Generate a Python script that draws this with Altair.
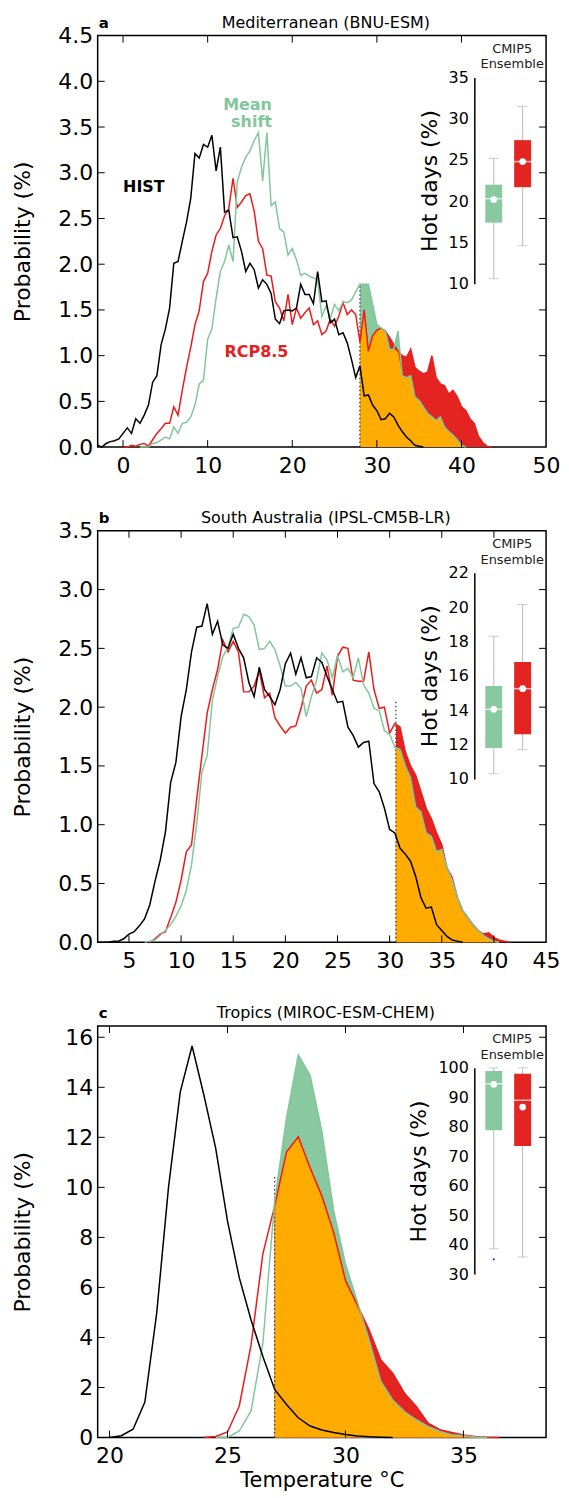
import altair as alt
import pandas as pd

FONT = "DejaVu Sans"
W, H = 450, 413

# ---------------- data: probability (%) per 0.5 degC bin ----------------
# (a) Mediterranean (BNU-ESM)
A_HIST_START = -3.0
A_HIST = [0.02, 0.0, 0.04, 0.06, 0.07, 0.09, 0.15, 0.21, 0.15, 0.31, 0.26, 0.35, 0.46, 0.71,
          0.78, 1.12, 1.29, 1.52, 2.01, 2.03, 2.25, 2.46, 2.72, 3.21, 3.16, 3.31, 3.28, 3.41,
          3.02, 3.28, 2.57, 2.59, 2.29, 2.30, 2.14, 1.92, 2.01, 1.94, 1.74, 1.83, 1.78, 1.68,
          1.40, 1.35, 1.49, 1.50, 1.49, 1.52, 1.78, 1.67, 1.67, 1.57, 1.92, 1.59, 1.60, 1.36,
          1.40, 1.23, 1.25, 1.14, 0.96, 0.76, 0.89, 0.56, 0.57, 0.46, 0.40, 0.30, 0.31, 0.37,
          0.33, 0.24, 0.17, 0.11, 0.07, 0.02, 0.01, 0.0]
A_RCP_START = 0.0
A_RCP = [0.0, 0.0, 0.02, 0.01, 0.03, 0.04, 0.01, 0.08, 0.15, 0.20, 0.26, 0.26, 0.44, 0.35,
         0.62, 0.87, 1.09, 1.34, 1.49, 1.81, 1.90, 2.14, 2.32, 2.39, 2.53, 2.61, 2.94, 2.62,
         2.68, 2.75, 2.77, 2.58, 2.25, 2.17, 1.88, 1.87, 1.59, 1.52, 1.38, 1.67, 1.34, 1.52,
         1.41, 1.47, 1.52, 1.34, 1.38, 1.23, 1.27, 1.40, 1.32, 1.43, 1.58, 1.45, 1.50, 1.45,
         1.15, 1.50, 1.05, 1.22, 1.28, 1.30, 1.27, 1.20, 1.12, 1.05, 1.00, 0.98, 1.07, 0.87,
         0.83, 0.80, 0.82, 1.00, 0.76, 0.69, 0.67, 0.58, 0.62, 0.55, 0.44, 0.40, 0.31, 0.26,
         0.12, 0.05, 0.01, 0.0]
A_SHIFT_START = 2.0
A_SHIFT = [0.0, 0.0, 0.0, 0.04, 0.05, 0.08, 0.11, 0.09, 0.22, 0.15, 0.26, 0.27, 0.33, 0.46,
           0.69, 0.73, 1.18, 1.29, 1.63, 1.92, 2.03, 2.21, 2.03, 2.90, 3.06, 3.17, 3.24, 3.35,
           3.44, 2.91, 3.44, 2.64, 2.68, 2.39, 2.35, 2.10, 2.17, 2.05, 1.88, 1.90, 1.87, 1.85,
           1.83, 1.43, 1.54, 1.41, 1.56, 1.49, 1.59, 1.58, 1.61, 1.70, 1.78, 1.78, 1.78, 1.56,
           1.34, 1.30, 1.27, 1.07, 1.07, 1.27, 0.78, 0.76, 0.78, 0.55, 0.51, 0.44, 0.37, 0.33,
           0.29, 0.33, 0.22, 0.17, 0.13, 0.08, 0.02, 0.0]

# (b) South Australia (IPSL-CM5B-LR)
B_HIST_START = 2.0
B_HIST = [0.0, 0.0, 0.0, 0.01, 0.01, 0.03, 0.07, 0.09, 0.14, 0.20, 0.32, 0.52, 0.70, 0.94,
          1.36, 1.53, 1.92, 2.15, 2.47, 2.68, 2.69, 2.88, 2.62, 2.73, 2.53, 2.50, 2.62, 2.50,
          2.42, 2.21, 2.09, 2.34, 2.15, 2.09, 2.02, 2.15, 2.37, 2.46, 2.28, 2.42, 2.25, 2.26,
          2.42, 2.38, 2.26, 2.15, 2.04, 2.05, 1.83, 1.76, 1.66, 1.70, 1.71, 1.35, 1.28, 1.14,
          0.96, 0.93, 0.80, 0.75, 0.69, 0.56, 0.38, 0.29, 0.30, 0.15, 0.10, 0.05, 0.02, 0.01, 0.0]
B_RCP_START = 7.0
B_RCP = [0.0, 0.03, 0.07, 0.09, 0.21, 0.34, 0.53, 0.77, 0.83, 1.22, 1.59, 1.95, 2.15, 2.32,
         2.57, 2.47, 2.56, 2.47, 2.13, 2.13, 2.18, 2.31, 2.08, 2.12, 1.91, 1.84, 1.78, 1.83,
         1.84, 1.99, 2.18, 2.23, 2.12, 2.15, 2.35, 2.10, 2.43, 2.51, 2.50, 2.23, 2.22, 2.22,
         2.47, 2.15, 1.99, 2.00, 1.78, 1.86, 1.83, 1.62, 1.50, 1.42, 1.28, 1.14, 1.05, 0.93,
         0.83, 0.63, 0.55, 0.38, 0.27, 0.21, 0.15, 0.10, 0.07, 0.08, 0.04, 0.02, 0.01, 0.0]
B_SHIFT_START = 6.5
B_SHIFT = [0.0, 0.01, 0.02, 0.06, 0.10, 0.15, 0.22, 0.31, 0.44, 0.66, 1.01, 1.45, 1.59, 2.06,
           2.26, 2.43, 2.51, 2.67, 2.68, 2.79, 2.77, 2.70, 2.49, 2.50, 2.56, 2.49, 2.35, 2.18,
           2.18, 2.21, 2.16, 1.92, 2.09, 2.23, 2.46, 2.40, 2.25, 2.44, 2.30, 2.33, 2.25, 2.42,
           2.19, 2.12, 1.99, 1.97, 1.80, 1.77, 1.66, 1.64, 1.50, 1.40, 1.15, 1.11, 0.93, 0.90,
           0.77, 0.79, 0.63, 0.53, 0.38, 0.27, 0.21, 0.15, 0.10, 0.06, 0.03, 0.01, 0.0]

# (c) Tropics (MIROC-ESM-CHEM)
C_HIST_START = 20.0
C_HIST = [0.0, 0.07, 0.33, 1.42, 4.96, 9.99, 13.82, 15.65, 13.69, 11.57, 8.66, 6.39, 4.70,
          3.24, 1.92, 1.32, 0.79, 0.46, 0.30, 0.20, 0.12, 0.06, 0.03, 0.01, 0.0]
C_RCP_START = 24.0
C_RCP = [0.0, 0.04, 0.22, 1.26, 3.70, 7.34, 9.26, 11.41, 12.02, 10.78, 9.66, 8.20, 6.28,
         5.30, 4.31, 3.10, 2.57, 1.77, 1.24, 0.57, 0.31, 0.20, 0.10, 0.04, 0.01, 0.0]
C_SHIFT_START = 24.5
C_SHIFT = [0.0, 0.0, 0.26, 1.06, 3.77, 9.46, 12.76, 15.30, 14.48, 12.24, 9.06, 6.94, 5.44,
           3.90, 2.24, 1.50, 1.04, 0.71, 0.44, 0.24, 0.11, 0.07, 0.02, 0.0]

# hot-day thresholds (degC), height of the dotted marker, values read at the threshold
A_THRESHOLD, A_THRESHOLD_TOP = 28.0, 1.79
B_THRESHOLD, B_THRESHOLD_TOP = 30.6, 2.05
C_THRESHOLD, C_THRESHOLD_TOP = 27.0, 10.45
B_AT_THRESHOLD = {"rcp": 1.86, "shift": 1.65}

# CMIP5 ensemble boxes: low whisker, q1, median, mean, q3, high whisker
A_BOX_SHIFT = [10.6, 17.4, 20.3, 20.2, 22.0, 25.2]
A_BOX_RCP = [14.6, 21.7, 24.8, 24.8, 27.4, 31.5]
B_BOX_SHIFT = [10.3, 11.8, 14.05, 14.05, 15.4, 18.3]
B_BOX_RCP = [11.7, 12.6, 15.25, 15.25, 16.8, 20.15]
C_BOX_SHIFT = [38.6, 78.8, 94.6, 94.4, 98.9, 100.0]
C_BOX_RCP = [35.8, 73.5, 89.0, 86.7, 98.0, 100.0]
C_FLIER = [35.0]

# tick values
A_XTICKS = [0, 10, 20, 30, 40, 50]
A_YTICKS = [0.0, 0.5, 1.0, 1.5, 2.0, 2.5, 3.0, 3.5, 4.0, 4.5]
B_XTICKS = [5, 10, 15, 20, 25, 30, 35, 40, 45]
B_YTICKS = [0.0, 0.5, 1.0, 1.5, 2.0, 2.5, 3.0, 3.5]
C_XTICKS = [20, 25, 30, 35]
C_YTICKS = [0, 2, 4, 6, 8, 10, 12, 14, 16]
A_BOX_TICKS = [10, 15, 20, 25, 30, 35]
B_BOX_TICKS = [10, 12, 14, 16, 18, 20, 22]
C_BOX_TICKS = [30, 40, 50, 60, 70, 80, 90, 100]

A_NOTES = [("HIST", 0.0, 2.79, "black", "left"),
           ("Mean", 17.6, 3.69, "#82c79b", "right"),
           ("shift", 17.6, 3.50, "#82c79b", "right"),
           ("RCP8.5", 12.0, 0.99, "#e8201d", "left")]

# ---------------- styling ----------------
GREEN_FILL = "#89c9a0"
GREEN_LINE = "#82c79b"
RED_FILL = "#e32420"
RED_LINE = "#ee1b1b"
ORANGE = "#ffab00"
GRAY = "#b8b8b8"
TICK_FS = 22
INSET_X0 = 378


def bins(start, vals):
    return [round(start + 0.5 * i, 2) for i in range(len(vals))]


def line_df(start, vals):
    return pd.DataFrame({"T": bins(start, vals), "P": vals})


def tail(start, vals, thr, at_thr):
    pts = {t: v for t, v in zip(bins(start, vals), vals) if t >= thr - 1e-9}
    if at_thr is not None:
        pts.setdefault(thr, at_thr)
    return pts


def make_panel(letter, title, hist, rcp, shift, thr, thr_top, at_thr, xdom, xticks,
               ydom, yticks, yfmt, box_shift, box_rcp, box_dom, box_ticks,
               flier=None, notes=(), xtitle=None):
    xs = alt.Scale(domain=xdom, nice=False, zero=False)
    ys = alt.Scale(domain=ydom, nice=False, zero=False)
    xa = dict(values=xticks, format="d", ticks=False, domain=False, grid=False,
              labelFontSize=TICK_FS, labelPadding=8, labelFlush=False, labelOverlap=False,
              labelColor="black")
    if xtitle:
        xa.update(title=xtitle, titleFontSize=21, titleFontWeight="normal",
                  titlePadding=3, titleColor="black")
    else:
        xa["title"] = None
    xaxis = alt.Axis(**xa)
    yaxis = alt.Axis(values=yticks, format=yfmt, ticks=False, domain=False, grid=False,
                     labelFontSize=TICK_FS, labelPadding=5, labelFlush=False, labelOverlap=False,
                     labelColor="black", title="Probability (%)", titleFontSize=22,
                     titleFontWeight="normal", titleColor="black", titleX=-63, titleY=H / 2)

    def X(f="T"):
        return alt.X(f"{f}:Q", scale=xs, axis=xaxis)

    def Y(f="P"):
        return alt.Y(f"{f}:Q", scale=ys, axis=yaxis)

    r = tail(rcp[0], rcp[1], thr, (at_thr or {}).get("rcp"))
    s = tail(shift[0], shift[1], thr, (at_thr or {}).get("shift"))
    keys = sorted(set(r) | set(s))
    dr = pd.DataFrame({"T": sorted(r), "P": [r[k] for k in sorted(r)]})
    ds = pd.DataFrame({"T": sorted(s), "P": [s[k] for k in sorted(s)]})
    dm = pd.DataFrame({"T": keys, "P": [min(r.get(k, 0.0), s.get(k, 0.0)) for k in keys]})

    layers = [
        alt.Chart(ds).mark_area(color=GREEN_FILL, opacity=1).encode(x=X(), y=Y()),
        alt.Chart(dr).mark_area(color=RED_FILL, opacity=1).encode(x=X(), y=Y()),
        alt.Chart(dm).mark_area(color=ORANGE, opacity=1).encode(x=X(), y=Y()),
        alt.Chart(pd.DataFrame({"T": [thr], "P0": [0.0], "P1": [thr_top]}))
        .mark_rule(color="#333333", strokeDash=[1.5, 2.5], strokeWidth=1.2)
        .encode(x=X(), y=Y("P0"), y2="P1:Q"),
        alt.Chart(line_df(*rcp)).mark_line(color=RED_LINE, strokeWidth=1.5).encode(x=X(), y=Y()),
        alt.Chart(line_df(*shift)).mark_line(color=GREEN_LINE, strokeWidth=1.5).encode(x=X(), y=Y()),
        alt.Chart(line_df(*hist)).mark_line(color="black", strokeWidth=1.5).encode(x=X(), y=Y()),
    ]
    # inward ticks on all four sides
    xt = pd.DataFrame({"T": [v for v in xticks if xdom[0] < v < xdom[1]]})
    yt = pd.DataFrame({"P": [v for v in yticks if ydom[0] < v < ydom[1]]})
    for a, b in [(H, H - 7), (0, 7)]:
        layers.append(alt.Chart(xt).mark_rule(color="black", strokeWidth=1)
                      .encode(x=X(), y=alt.value(a), y2=alt.value(b)))
    for a, b in [(0, 7), (W, W - 7)]:
        layers.append(alt.Chart(yt).mark_rule(color="black", strokeWidth=1)
                      .encode(y=Y(), x=alt.value(a), x2=alt.value(b)))
    for text, t, p, col, al in notes:
        layers.append(alt.Chart(pd.DataFrame({"label": [text], "T": [t], "P": [p]}))
                      .mark_text(fontSize=16, fontWeight="bold", color=col, align=al,
                                 baseline="alphabetic")
                      .encode(x=X(), y=Y(), text="label:N"))
    layers.append(alt.Chart(pd.DataFrame({"label": [title]}))
                  .mark_text(fontSize=16, color="black", align="center", baseline="alphabetic")
                  .encode(x=alt.value(229), y=alt.value(-8), text="label:N"))
    layers.append(alt.Chart(pd.DataFrame({"label": [letter]}))
                  .mark_text(fontSize=15, fontWeight="bold", color="black", align="left",
                             baseline="alphabetic")
                  .encode(x=alt.value(1), y=alt.value(-8), text="label:N"))
    for lab, yy in [("CMIP5", 13), ("Ensemble", 29)]:
        layers.append(alt.Chart(pd.DataFrame({"label": [lab]}))
                      .mark_text(fontSize=13, color="#222222", align="center", baseline="middle")
                      .encode(x=alt.value(INSET_X0 + 38), y=alt.value(yy), text="label:N"))
    main = alt.layer(*layers)

    # inset box plot
    ixs = alt.Scale(domain=[0.5, 2.5], range=[INSET_X0, INSET_X0 + 68], nice=False, zero=False)
    iys = alt.Scale(domain=box_dom, range=[249, 42], nice=False, zero=False)
    iyaxis = alt.Axis(orient="left", offset=-INSET_X0, values=box_ticks, format="d", ticks=False,
                      domain=True, domainColor="black", domainWidth=1.5, grid=False,
                      labelFontSize=16, labelPadding=6, labelFlush=False, labelOverlap=False,
                      labelColor="black", title="Hot days (%)", titleFontSize=22,
                      titleFontWeight="normal", titlePadding=7, titleColor="black")

    def IX():
        return alt.X("pos:Q", scale=ixs, axis=None)

    def IY(f):
        return alt.Y(f"{f}:Q", scale=iys, axis=iyaxis)

    cols = ["lo", "q1", "med", "mean", "q3", "hi"]
    bdf = pd.DataFrame([dict(zip(cols, box_shift), pos=1, grp="shift"),
                        dict(zip(cols, box_rcp), pos=2, grp="rcp")])
    ilayers = [
        alt.Chart(bdf).mark_rule(color=GRAY, strokeWidth=1).encode(x=IX(), y=IY("lo"), y2="hi:Q"),
        alt.Chart(bdf).mark_tick(orient="horizontal", size=10, thickness=1, color=GRAY)
        .encode(x=IX(), y=IY("lo")),
        alt.Chart(bdf).mark_tick(orient="horizontal", size=10, thickness=1, color=GRAY)
        .encode(x=IX(), y=IY("hi")),
        alt.Chart(bdf).mark_bar(size=17).encode(
            x=IX(), y=IY("q1"), y2="q3:Q",
            color=alt.Color("grp:N", scale=alt.Scale(domain=["shift", "rcp"],
                                                     range=[GREEN_FILL, RED_FILL]), legend=None)),
        alt.Chart(bdf).mark_tick(orient="horizontal", size=17, thickness=1.5, color="white")
        .encode(x=IX(), y=IY("med")),
        alt.Chart(bdf).mark_point(filled=True, color="white", size=45, opacity=1)
        .encode(x=IX(), y=IY("mean")),
    ]
    if flier:
        ilayers.append(alt.Chart(pd.DataFrame({"pos": [1] * len(flier), "v": flier}))
                       .mark_point(filled=True, color="blue", size=3, shape="square", opacity=1)
                       .encode(x=IX(), y=IY("v")))
    inset = alt.layer(*ilayers)

    return (alt.layer(main, inset)
            .resolve_scale(x="independent", y="independent", color="independent")
            .properties(width=W, height=H))


pa = make_panel("a", "Mediterranean (BNU-ESM)",
                (A_HIST_START, A_HIST), (A_RCP_START, A_RCP), (A_SHIFT_START, A_SHIFT),
                A_THRESHOLD, A_THRESHOLD_TOP, None, [-3, 50], A_XTICKS,
                [0, 4.5], A_YTICKS, ".1f", A_BOX_SHIFT, A_BOX_RCP, [10, 35], A_BOX_TICKS,
                notes=A_NOTES)
pb = make_panel("b", "South Australia (IPSL-CM5B-LR)",
                (B_HIST_START, B_HIST), (B_RCP_START, B_RCP), (B_SHIFT_START, B_SHIFT),
                B_THRESHOLD, B_THRESHOLD_TOP, B_AT_THRESHOLD, [2, 45], B_XTICKS,
                [0, 3.5], B_YTICKS, ".1f", B_BOX_SHIFT, B_BOX_RCP, [10, 22], B_BOX_TICKS)
pc = make_panel("c", "Tropics (MIROC-ESM-CHEM)",
                (C_HIST_START, C_HIST), (C_RCP_START, C_RCP), (C_SHIFT_START, C_SHIFT),
                C_THRESHOLD, C_THRESHOLD_TOP, None, [19.5, 38.5], C_XTICKS,
                [0, 16.45], C_YTICKS, "d", C_BOX_SHIFT, C_BOX_RCP, [30, 100], C_BOX_TICKS,
                flier=C_FLIER, xtitle="Temperature °C")

chart = (alt.vconcat(pa, pb, pc, spacing=32)
         .properties(padding={"left": 3, "top": 3, "right": 0, "bottom": 0})
         .configure(font=FONT, background="white")
         .configure_view(stroke="black", strokeWidth=1.5))

chart.save("out.html", embed_options={"renderer": "svg", "actions": False})
